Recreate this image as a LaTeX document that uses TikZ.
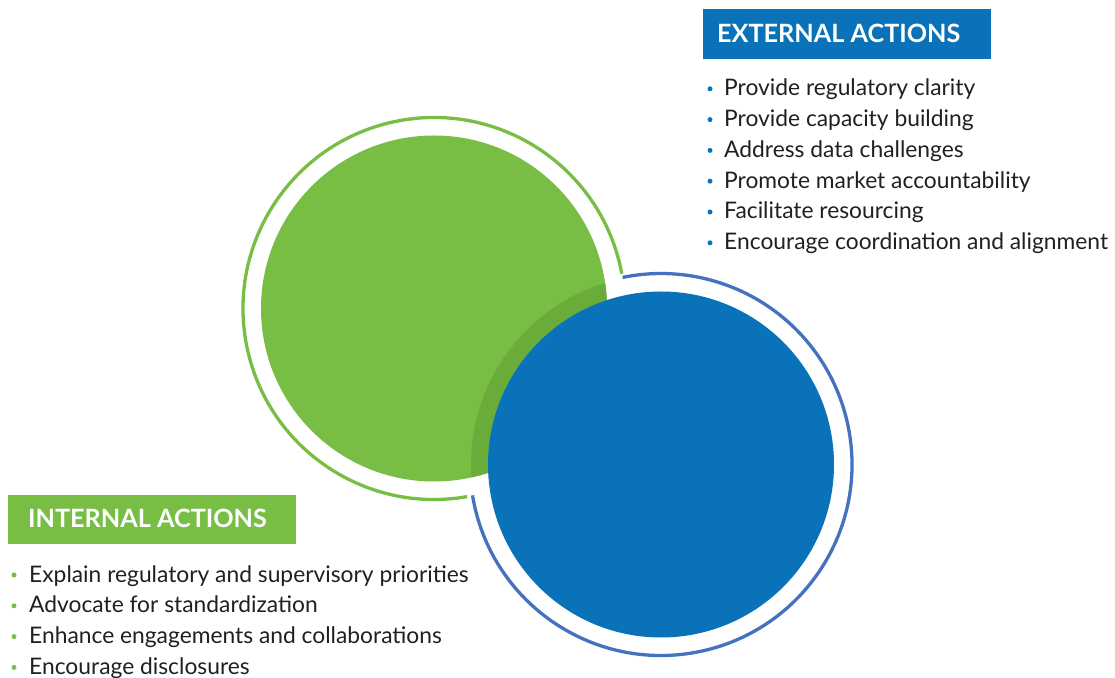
\documentclass[tikz,border=0pt]{standalone}
\usepackage{fontspec}
\setmainfont{Lato}
\usetikzlibrary{calc}

\definecolor{leaf}{RGB}{120,190,68}
\definecolor{leafdark}{RGB}{106,172,58}
\definecolor{ocean}{RGB}{10,114,184}
\definecolor{oceanring}{RGB}{68,114,190}
\definecolor{ink}{RGB}{35,31,32}

\tikzset{
  item/.style={anchor=base west, inner sep=0pt, text=ink, font=\fontsize{22.8}{26}\selectfont},
  headtext/.style={anchor=base west, inner sep=0pt, text=white, font=\fontsize{25.2}{28}\selectfont\bfseries},
  headbox/.style={rectangle, inner sep=0pt, minimum width=288, minimum height=50},
  ringline/.style={line width=3.3pt},
}

\begin{document}
\begin{tikzpicture}[x=1pt,y=1pt]
\useasboundingbox (0,0) rectangle (1115,677);

% centres of the two discs
\coordinate (G) at (434,368.5);
\coordinate (B) at (661,212.5);

% outer rings, each stopping where it meets the other
\draw[ringline, leaf] ([shift={(10.5:191)}]G) arc[start angle=10.5, end angle=280, radius=191];
\draw[ringline, oceanring] ([shift={(189.3:191)}]B) arc[start angle=189.3, end angle=461.6, radius=191];

% discs and their shaded overlap
\fill[leaf] (G) circle[radius=173];
\begin{scope}
  \clip (G) circle[radius=173];
  \fill[leafdark] (B) circle[radius=190];
\end{scope}
\fill[ocean] (B) circle[radius=173];

% external actions
\node[headbox, fill=ocean] (extbox) at (847,643) {};
\node[headtext] (exthead) at (717,634.5) {EXTERNAL ACTIONS};
\foreach \t [count=\i] in {Provide regulatory clarity, Provide capacity building,
    Address data challenges, Promote market accountability,
    Facilitate resourcing, Encourage coordination and alignment}{
  \node[item] (ext\i) at (724,{581.2-(\i-1)*30.8}) {\t};
  \fill[ocean] ($(ext\i.base west)+(-14,7)$) circle[radius=2.5];
}

% internal actions
\node[headbox, fill=leaf, minimum height=49] (intbox) at (152,157.5) {};
\node[headtext] (inthead) at (28,149.2) {INTERNAL ACTIONS};
\foreach \t [count=\i] in {Explain regulatory and supervisory priorities,
    Advocate for standardization, Enhance engagements and collaborations,
    Encourage disclosures}{
  \node[item] (int\i) at (29,{95-(\i-1)*30.8}) {\t};
  \fill[leaf] ($(int\i.base west)+(-15,7)$) circle[radius=2.5];
}
\end{tikzpicture}
\end{document}
